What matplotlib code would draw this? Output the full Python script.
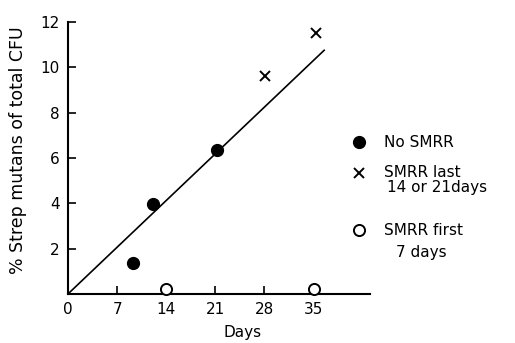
import matplotlib
matplotlib.use("Agg")
import matplotlib.pyplot as plt

# data
no_smrr_days = [9.2, 12.1, 21.2]
no_smrr_pct = [1.35, 3.95, 6.35]
last_days = [28.1, 35.4]
last_pct = [9.6, 11.5]
first_days = [14, 35]
first_pct = [0.2, 0.2]
fit_days = [0, 36.5]
fit_pct = [0, 10.75]

xticks = [0, 7, 14, 21, 28, 35]
yticks = [2, 4, 6, 8, 10, 12]

plt.rcParams['font.family'] = ['DejaVu Sans']

fig = plt.figure(figsize=(5.15, 3.43), dpi=100)
ax = fig.add_axes([0.132, 0.143, 0.586, 0.793])

ax.plot(fit_days, fit_pct, color='black', lw=1.2)
ax.plot(no_smrr_days, no_smrr_pct, 'o', color='black', ms=8.5)
ax.plot(last_days, last_pct, 'x', color='black', ms=7, mew=1.4)
ax.plot(first_days, first_pct, 'o', mfc='white', mec='black', ms=8, mew=1.4,
        clip_on=False, zorder=5)

ax.set_xlim(0, 43)
ax.set_ylim(0, 12)
ax.set_xticks(xticks)
ax.set_yticks(yticks)
ax.tick_params(direction='in', length=6, width=1.2, labelsize=11, pad=6)
for s in ['top', 'right']:
    ax.spines[s].set_visible(False)
for s in ['left', 'bottom']:
    ax.spines[s].set_linewidth(1.5)

ax.set_xlabel('Days', fontsize=11)
ax.xaxis.set_label_coords(0.58, -0.115)
ax.set_ylabel('% Strep mutans of total CFU', fontsize=12.5)
ax.yaxis.set_label_coords(-0.135, 0.53)

# hand-made key on the right
kw = dict(fontsize=11, va='center')
ax.plot([41.5], [6.7], 'o', color='black', ms=8.5, clip_on=False)
ax.text(45, 6.7, 'No SMRR', **kw)
ax.plot([41.5], [5.34], 'x', color='black', ms=7, mew=1.4, clip_on=False)
ax.text(45, 5.38, 'SMRR last', **kw)
ax.text(45.5, 4.68, '14 or 21days', **kw)
ax.plot([41.5], [2.82], 'o', mfc='white', mec='black', ms=8, mew=1.4, clip_on=False)
ax.text(45, 2.82, 'SMRR first', **kw)
ax.text(46.8, 1.85, '7 days', **kw)

fig.savefig('out.png', dpi=100)
